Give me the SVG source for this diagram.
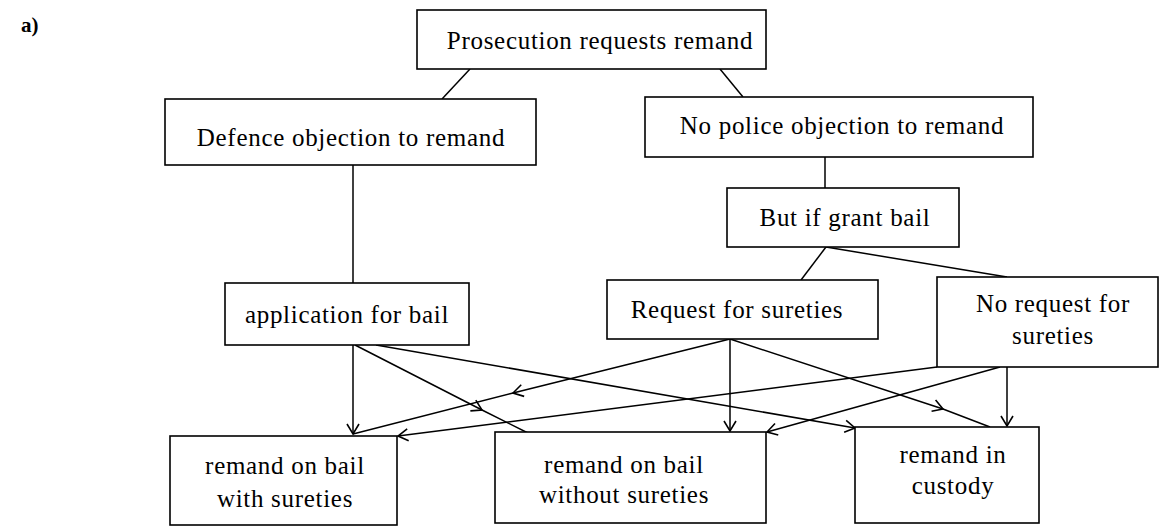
<svg xmlns="http://www.w3.org/2000/svg" width="1161" height="526" viewBox="0 0 1161 526">
<style>
  .box { fill: #fff; stroke: #000; stroke-width: 1.6; }
  .t { font-family: "Liberation Serif", "Times New Roman", serif; font-size: 25px; letter-spacing: 0.7px; fill: #000; text-anchor: middle; }
  .lbl { font-family: "Liberation Serif", "Times New Roman", serif; font-size: 21px; font-weight: bold; fill: #000; }
  .c { fill: none; stroke: #000; stroke-width: 1.5; }
  .ae { marker-end: url(#arr); }
  .am { marker-mid: url(#arr); }
</style>
<defs>
  <marker id="arr" viewBox="-12 -8 14 16" markerWidth="14" markerHeight="16" refX="0" refY="0" orient="auto" markerUnits="userSpaceOnUse">
    <path d="M-10,-6 L0,0 L-10,6" fill="none" stroke="#000" stroke-width="1.6"/>
  </marker>
</defs>
<rect width="1161" height="526" fill="#fff"/>
<text class="lbl" x="21" y="32">a)</text>

<g id="connectors">
  <line class="c" x1="470" y1="69" x2="442" y2="99"/>
  <line class="c" x1="720" y1="69" x2="743" y2="97"/>
  <line class="c" x1="353" y1="165" x2="353" y2="283"/>
  <line class="c" x1="825" y1="157" x2="825" y2="188"/>
  <line class="c" x1="826" y1="247" x2="801" y2="280"/>
  <line class="c" x1="826" y1="247" x2="1007" y2="277"/>
  <!-- from application for bail -->
  <line class="c ae" x1="353" y1="345" x2="353" y2="434"/>
  <polyline class="c am" points="355,345 482,410 530,434"/>
  <line class="c ae" x1="376" y1="345" x2="855" y2="428"/>
  <!-- from request for sureties -->
  <polyline class="c am" points="730,339 513,393 353,434"/>
  <line class="c ae" x1="730" y1="339" x2="730" y2="431"/>
  <polyline class="c am" points="730,339 943,409 990,427"/>
  <!-- from no request for sureties -->
  <line class="c ae" x1="1007" y1="367" x2="1007" y2="426"/>
  <line class="c ae" x1="1000" y1="367" x2="767" y2="432"/>
  <line class="c ae" x1="937" y1="367" x2="398" y2="436"/>
</g>

<g id="n-prosecution">
  <rect class="box" x="417" y="10" width="349" height="59"/>
  <text class="t" x="600" y="49">Prosecution requests remand</text>
</g>
<g id="n-defence">
  <rect class="box" x="165" y="99" width="371" height="66"/>
  <text class="t" x="351" y="146">Defence objection to remand</text>
</g>
<g id="n-nopolice">
  <rect class="box" x="645" y="97" width="388" height="60"/>
  <text class="t" x="842" y="134">No police objection to remand</text>
</g>
<g id="n-butif">
  <rect class="box" x="727" y="188" width="232" height="59"/>
  <text class="t" x="845" y="226">But if grant bail</text>
</g>
<g id="n-application">
  <rect class="box" x="225" y="283" width="244" height="62"/>
  <text class="t" x="347" y="323">application for bail</text>
</g>
<g id="n-request">
  <rect class="box" x="607" y="280" width="271" height="59"/>
  <text class="t" x="737" y="318">Request for sureties</text>
</g>
<g id="n-norequest">
  <rect class="box" x="937" y="277" width="221" height="90"/>
  <text class="t" x="1053" y="312">No request for</text>
  <text class="t" x="1053" y="344">sureties</text>
</g>
<g id="n-withsureties">
  <rect class="box" x="170" y="436" width="227" height="89"/>
  <text class="t" x="285" y="474">remand on bail</text>
  <text class="t" x="285" y="507">with sureties</text>
</g>
<g id="n-withoutsureties">
  <rect class="box" x="495" y="432" width="271" height="91"/>
  <text class="t" x="624" y="473">remand on bail</text>
  <text class="t" x="624" y="503">without sureties</text>
</g>
<g id="n-custody">
  <rect class="box" x="855" y="427" width="184" height="96"/>
  <text class="t" x="953" y="463">remand in</text>
  <text class="t" x="953" y="494">custody</text>
</g>
</svg>
